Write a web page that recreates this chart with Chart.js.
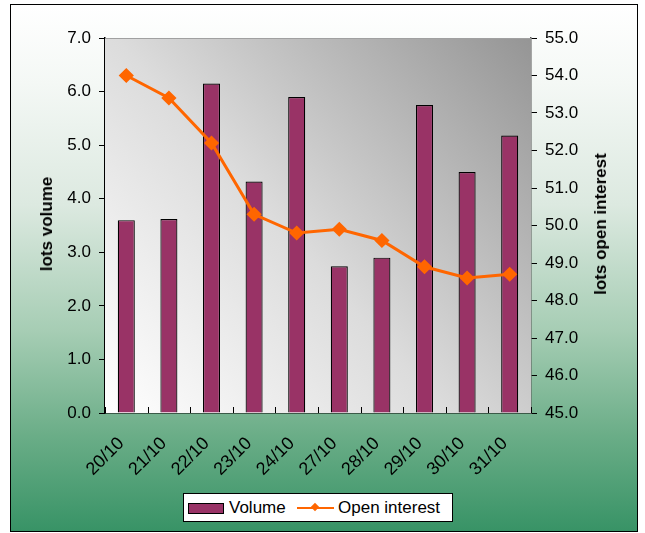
<!DOCTYPE html>
<html>
<head>
<meta charset="utf-8">
<script src="https://cdn.jsdelivr.net/npm/chart.js@4.4.0/dist/chart.umd.min.js"></script>
<style>
  html, body { margin: 0; padding: 0; background: #ffffff; }
  #wrap { position: relative; width: 645px; height: 533px; overflow: hidden; font-family: "Liberation Sans", Arial, sans-serif; }
  #frame { position: absolute; left: 10px; top: 4px; width: 626px; height: 526px; border: 1px solid #000;
    background: linear-gradient(to bottom, #ffffff 0%, #f4f8f5 15%, #dce9e0 38%, #a6cdb4 62%, #6aad87 82%, #389366 100%); }
  canvas { position: absolute; left: 0; top: 0; }
  .ytitle { position: absolute; font-weight: bold; font-size: 17px; color: #000; white-space: nowrap;
    transform: translate(-50%, -50%) rotate(-90deg); }
  #legend { position: absolute; left: 183px; top: 493px; width: 268px; height: 27px; background: #fff; border: 1px solid #000;
    font-size: 17px; color: #000; }
  #legend .sw { position: absolute; left: 4px; top: 9px; width: 34px; height: 9px; background: #993366; border: 1px solid #000; }
  #legend .t1 { position: absolute; left: 45px; top: 4px; }
  #legend .ln { position: absolute; left: 113px; top: 13px; width: 37px; height: 2px; background: #ff6600; }
  #legend .dm { position: absolute; left: 128px; top: 10px; width: 6px; height: 6px; background: #ff6600; transform: rotate(45deg); }
  #legend .t2 { position: absolute; left: 154px; top: 4px; }
</style>
</head>
<body>
<div id="wrap">
  <div id="frame"></div>
  <canvas id="c" width="645" height="533"></canvas>
  <div class="ytitle" style="left:47px; top:224px;">lots volume</div>
  <div class="ytitle" style="left:601px; top:224px;">lots open interest</div>
  <div id="legend">
    <div class="sw"></div><div class="t1">Volume</div>
    <div class="ln"></div><div class="dm"></div><div class="t2">Open interest</div>
  </div>
</div>
<script>
const categories = ["20/10","21/10","22/10","23/10","24/10","27/10","28/10","29/10","30/10","31/10"];
const volume = [3.60, 3.62, 6.15, 4.32, 5.90, 2.74, 2.90, 5.75, 4.50, 5.18];
const openInterest = [54.0, 53.4, 52.2, 50.3, 49.8, 49.9, 49.6, 48.9, 48.6, 48.7];
const volumeTicks = [0,1,2,3,4,5,6,7];
const oiTicks = [45,46,47,48,49,50,51,52,53,54,55];

const FONT = { family: '"Liberation Sans", Arial, sans-serif', size: 17 };
const XFONT = { family: '"Liberation Sans", Arial, sans-serif', size: 18 };

const plotBg = {
  id: 'plotBg',
  beforeDatasetsDraw(chart) {
    const { ctx, chartArea: a } = chart;
    ctx.save();
    const g = ctx.createLinearGradient(a.left, a.bottom, a.right, a.top);
    g.addColorStop(0, '#ffffff');
    g.addColorStop(0.45, '#dcdcdc');
    g.addColorStop(1, '#959595');
    ctx.fillStyle = g;
    ctx.fillRect(a.left, a.top, a.right - a.left, a.bottom - a.top);
    ctx.strokeStyle = '#a0a0a0';
    ctx.lineWidth = 1;
    ctx.beginPath();
    ctx.moveTo(a.left, a.top + 0.5); ctx.lineTo(a.right, a.top + 0.5);
    ctx.stroke();
    ctx.strokeStyle = '#000';
    ctx.beginPath();
    for (let i = 0; i <= categories.length; i++) {
      const px = Math.round(a.left + (a.right - a.left) * i / categories.length) + 0.5;
      ctx.moveTo(px, a.bottom - 6); ctx.lineTo(px, a.bottom);
    }
    ctx.stroke();
    ctx.restore();
  }
};

new Chart(document.getElementById('c'), {
  data: {
    labels: categories,
    datasets: [
      { type: 'line', label: 'Open interest', data: openInterest, yAxisID: 'y1',
        borderColor: '#ff6600', backgroundColor: '#ff6600', borderWidth: 3,
        pointStyle: 'rectRot', pointRadius: 5.5, pointHoverRadius: 5.5, tension: 0, order: 0 },
      { type: 'bar', label: 'Volume', data: volume, yAxisID: 'y',
        backgroundColor: '#993366', borderColor: '#000', borderWidth: 1.2,
        barPercentage: 0.4, categoryPercentage: 1.0, order: 1 }
    ]
  },
  options: {
    responsive: false,
    animation: false,
    devicePixelRatio: 1,
    layout: { padding: { top: 38, left: 0, right: 0, bottom: 0 } },
    plugins: { legend: { display: false }, tooltip: { enabled: false } },
    scales: {
      x: {
        offset: true,
        grid: { display: false, offset: true },
        border: { display: true, color: '#000', width: 1.5 },
        ticks: { color: '#000', font: XFONT, minRotation: 45, maxRotation: 45, padding: 12, labelOffset: -5 },
        afterFit(s) { s.height = 120; }
      },
      y: {
        position: 'left', min: 0, max: 7,
        afterBuildTicks(s) { s.ticks = volumeTicks.map(v => ({ value: v })); },
        grid: { drawOnChartArea: false, color: '#000', tickLength: 6 },
        border: { display: true, color: '#000', width: 1.5 },
        ticks: { color: '#000', font: FONT, padding: 8, callback: v => v.toFixed(1) },
        afterFit(s) { s.width = 105; }
      },
      y1: {
        position: 'right', min: 45, max: 55,
        afterBuildTicks(s) { s.ticks = oiTicks.map(v => ({ value: v })); },
        grid: { drawOnChartArea: false, color: '#000', tickLength: 6 },
        border: { display: true, color: '#555', width: 1.5 },
        ticks: { color: '#000', font: FONT, padding: 8, callback: v => v.toFixed(1) },
        afterFit(s) { s.width = 114; }
      }
    }
  },
  plugins: [plotBg]
});
</script>
</body>
</html>
